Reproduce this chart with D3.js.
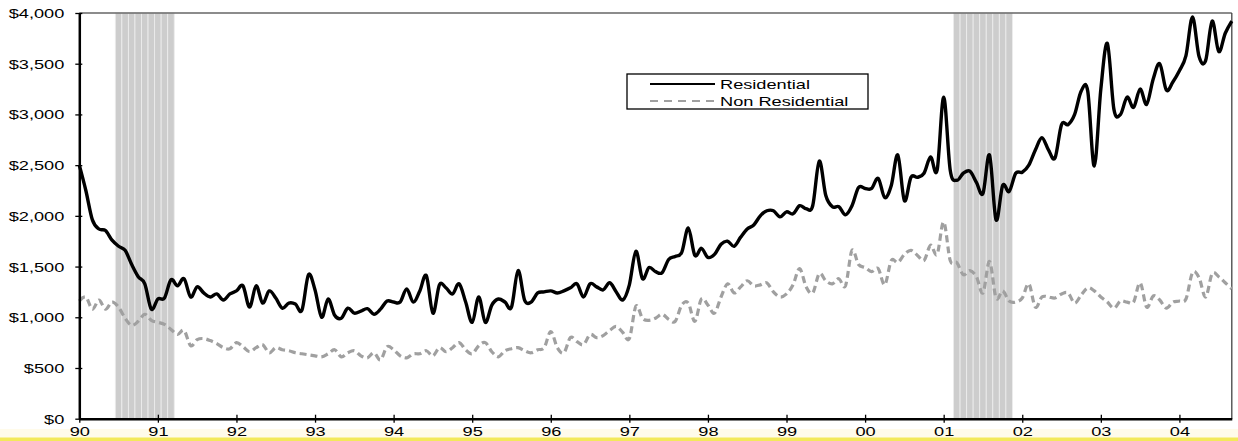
<!DOCTYPE html>
<html>
<head>
<meta charset="utf-8">
<script src="https://cdn.jsdelivr.net/npm/d3@7"></script>
<style>
  html, body { margin: 0; padding: 0; background: #ffffff; }
  svg { display: block; }
  text { font-family: "Liberation Sans", Arial, Helvetica, sans-serif; font-size: 13px; fill: #000; }
</style>
</head>
<body>
<svg id="chart" width="1238" height="441"></svg>
<script>
// ---- data (monthly, Jan 1990 = month 0 ... Sep 2004 = month 176) ----
const yearLabels = ["90","91","92","93","94","95","96","97","98","99","00","01","02","03","04"];
const yTickValues = [0, 500, 1000, 1500, 2000, 2500, 3000, 3500, 4000];
const seriesNames = ["Residential", "Non Residential"];

const residential = [
  2500,2250,1960,1870,1855,1760,1700,1660,1520,1400,1330,1080,
  1180,1190,1370,1310,1380,1200,1300,1240,1200,1230,1170,1230,
  1260,1310,1100,1310,1140,1260,1190,1090,1140,1130,1070,1420,
  1270,1000,1180,1020,990,1090,1040,1060,1085,1030,1080,1160,
  1150,1150,1280,1150,1260,1410,1040,1320,1290,1230,1330,1150,
  950,1200,950,1120,1180,1150,1100,1460,1170,1150,1240,1250,
  1260,1240,1260,1290,1330,1200,1330,1300,1270,1340,1250,1170,
  1320,1650,1380,1490,1450,1440,1570,1600,1640,1880,1610,1680,
  1590,1620,1720,1750,1700,1790,1870,1910,2000,2050,2050,1990,
  2040,2020,2100,2070,2100,2540,2200,2090,2090,2010,2100,2280,
  2270,2270,2370,2180,2300,2600,2150,2380,2380,2420,2580,2450,
  3170,2450,2350,2420,2440,2330,2220,2600,1960,2300,2240,2420,
  2430,2500,2650,2770,2650,2570,2900,2900,3000,3230,3230,2490,
  3250,3700,3050,3000,3170,3070,3250,3100,3350,3500,3240,3320,
  3430,3580,3960,3570,3530,3920,3620,3800,3920
];

const nonResidential = [
  1160,1200,1080,1170,1080,1150,1100,990,920,960,1030,970,
  950,930,880,830,870,720,780,790,770,740,700,690,
  750,710,660,700,730,650,700,680,670,650,640,630,
  620,610,640,680,610,650,670,620,600,650,580,710,
  680,620,600,640,640,670,620,700,660,700,750,680,
  640,720,750,660,610,670,690,700,670,650,680,700,
  860,700,650,800,760,730,830,800,820,870,910,850,
  790,1110,990,970,990,1030,980,960,1120,1140,960,1180,
  1120,1040,1200,1330,1240,1300,1360,1310,1320,1340,1250,1200,
  1230,1320,1480,1300,1240,1430,1360,1330,1380,1310,1660,1520,
  1490,1450,1480,1320,1560,1540,1620,1660,1610,1560,1710,1620,
  1940,1560,1540,1420,1460,1400,1240,1550,1190,1260,1160,1150,
  1190,1330,1100,1200,1200,1190,1230,1240,1140,1220,1290,1260,
  1200,1150,1090,1160,1150,1150,1340,1100,1210,1170,1090,1150,
  1160,1180,1440,1390,1200,1430,1400,1340,1280
];

// recession months (first month index, last month index)
const recessionStart = [6, 134];
const recessionEnd   = [14, 142];

// ---- layout ----
const W = 1238, H = 441;
const plot = { left: 79.3, right: 1231.8, top: 13, bottom: 418.7 };
const SX = 1.4; // horizontal stretch of the original lettering

const svg = d3.select("#chart");

// bottom yellow strip
svg.append("rect").attr("x", 0).attr("y", 429).attr("width", W).attr("height", 9).attr("fill", "#fffbea");
svg.append("rect").attr("x", 0).attr("y", 437.5).attr("width", W).attr("height", 3.5).attr("fill", "#f3e95a");

const x = d3.scaleLinear().domain([0, residential.length - 1]).range([plot.left, plot.right]);
const y = d3.scaleLinear().domain([0, 4000]).range([plot.bottom, plot.top]);
const mw = x(1) - x(0);

// recession shading: one bar per month
const recMonths = [];
recessionStart.forEach((s, k) => { for (let m = s; m <= recessionEnd[k]; m++) recMonths.push(m); });
svg.append("g").selectAll("rect").data(recMonths).join("rect")
  .attr("x", d => x(d) - mw / 2)
  .attr("y", y(4000))
  .attr("width", mw)
  .attr("height", y(0) - y(4000))
  .attr("fill", "#cdcdcd")
  .attr("stroke", "#ececec")
  .attr("stroke-width", 0.9);

// plot frame (top and right)
svg.append("line").attr("x1", plot.left).attr("x2", plot.right).attr("y1", plot.top).attr("y2", plot.top)
  .attr("stroke", "#666").attr("stroke-width", 1.3);
svg.append("line").attr("x1", plot.right).attr("x2", plot.right).attr("y1", plot.top).attr("y2", plot.bottom)
  .attr("stroke", "#444").attr("stroke-width", 1.3);

// lines
const line = d3.line().x((d, i) => x(i)).y(d => y(d)).curve(d3.curveCatmullRom.alpha(0));
svg.append("path").datum(nonResidential).attr("d", line)
  .attr("fill", "none").attr("stroke", "#a0a0a0").attr("stroke-width", 3.2)
  .attr("stroke-dasharray", "7,4");
svg.append("path").datum(residential).attr("d", line)
  .attr("fill", "none").attr("stroke", "#000").attr("stroke-width", 3.4)
  .attr("stroke-linejoin", "round");

// y axis
const yAxis = d3.axisLeft(y).tickValues(yTickValues).tickFormat(d => "$" + d3.format(",")(d)).tickSizeOuter(0);
const gy = svg.append("g").attr("transform", `translate(${plot.left},0)`).call(yAxis);
gy.select(".domain").attr("stroke", "#000").attr("stroke-width", 2.5);
gy.selectAll(".tick line").attr("x1", 3).attr("x2", -4).attr("stroke", "#000").attr("stroke-width", 1.3);
gy.selectAll(".tick text")
  .attr("x", -15 / SX).attr("dy", "0.35em")
  .attr("transform", `scale(${SX},1)`)
  .style("font-family", "'Liberation Sans', Arial, sans-serif").style("font-size", "13px").attr("fill", "#000");

// x axis
const xAxis = d3.axisBottom(x).tickValues(yearLabels.map((d, i) => i * 12)).tickFormat((d, i) => yearLabels[i]).tickSizeOuter(0);
const gx = svg.append("g").attr("transform", `translate(0,${plot.bottom})`).call(xAxis);
gx.select(".domain").attr("stroke", "#000").attr("stroke-width", 2.5);
gx.selectAll(".tick line").attr("y1", -4).attr("y2", 4).attr("stroke", "#000").attr("stroke-width", 1.3);
gx.selectAll(".tick text")
  .attr("y", 17).attr("dy", 0)
  .attr("transform", `scale(${SX},1)`)
  .style("font-family", "'Liberation Sans', Arial, sans-serif").style("font-size", "13px").attr("fill", "#000");

// legend
const lg = svg.append("g");
lg.append("rect").attr("x", 627).attr("y", 74).attr("width", 241).attr("height", 35)
  .attr("fill", "#fff").attr("stroke", "#000").attr("stroke-width", 1.3);
const legendItems = [
  { name: seriesNames[0], color: "#000", dash: null, cy: 84 },
  { name: seriesNames[1], color: "#a0a0a0", dash: "8,6", cy: 101 }
];
legendItems.forEach(it => {
  lg.append("line").attr("x1", 650).attr("x2", 715).attr("y1", it.cy).attr("y2", it.cy)
    .attr("stroke", it.color).attr("stroke-width", 2).attr("stroke-dasharray", it.dash);
  lg.append("text").attr("transform", `translate(720,${it.cy + 4.6}) scale(${SX},1)`).text(it.name);
});
</script>
</body>
</html>
